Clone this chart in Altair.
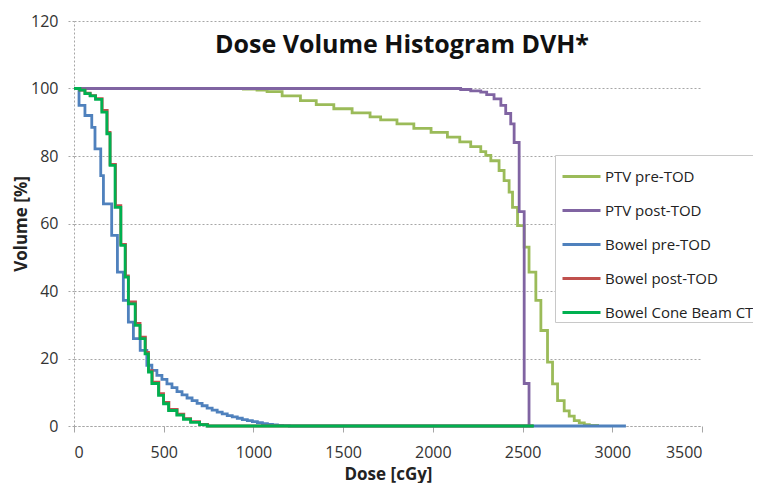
import altair as alt
import pandas as pd

# ---- data ----
series_names = ["PTV pre-TOD", "PTV post-TOD", "Bowel pre-TOD", "Bowel post-TOD", "Bowel Cone Beam CT"]
series_colors = ["#9BBB59", "#8064A2", "#4F81BD", "#C0504D", "#00B050"]

ptv_pre_dose = [0, 944, 1020, 1076, 1160, 1262, 1350, 1448, 1550, 1650, 1709, 1800, 1894, 1990, 2081,
                2150, 2211, 2267, 2295, 2323, 2369, 2397, 2425, 2444, 2472, 2509, 2536, 2574, 2602,
                2639, 2667, 2695, 2732, 2760, 2788, 2816, 2844, 2872, 2918]
ptv_pre_vol = [100, 99.8, 99.5, 99.1, 97.8, 96.4, 95.2, 94.0, 92.8, 91.6, 90.7, 89.5, 88.2, 87.0, 85.6,
               84.2, 82.8, 81.3, 80.2, 78.6, 75.7, 72.7, 69.3, 64.8, 59.4, 53.0, 45.6, 37.2, 28.3,
               18.9, 12.5, 7.5, 4.5, 2.9, 1.6, 0.9, 0.4, 0.15, 0]

ptv_post_dose = [0, 2155, 2211, 2267, 2300, 2341, 2379, 2406, 2434, 2453, 2481, 2509, 2536]
ptv_post_vol = [100, 99.7, 99.3, 98.9, 98.2, 96.9, 95.0, 92.6, 89.5, 84.0, 63.5, 12.6, 0]

bowel_pre_dose = [0, 28, 61, 99, 117, 149, 164, 210, 242, 275, 303, 331, 369, 406, 434, 462, 490, 518,
                  546, 574, 602, 630, 658, 686, 714, 742, 770, 798, 826, 854, 882, 910, 938, 966, 994,
                  1022, 1050, 1078, 1106, 1134, 1162, 1200, 3076]
bowel_pre_vol = [100, 95, 92, 88.5, 82.1, 74.2, 65.8, 56.5, 45.6, 37.2, 30.8, 25.9, 22.4, 18, 16.5, 15,
                 13.8, 12.5, 11.4, 10.2, 9.2, 8.3, 7.5, 6.7, 6.0, 5.3, 4.7, 4.1, 3.6, 3.1, 2.7, 2.3,
                 1.9, 1.6, 1.3, 1.0, 0.7, 0.5, 0.3, 0.2, 0.1, 0, 0]

bowel_post_dose = [0, 33, 61, 90, 120, 157, 185, 201, 231, 261, 287, 303, 343, 368, 398, 415, 436, 473,
                   499, 529, 575, 612, 650, 700, 745, 2560]
bowel_post_vol = [100, 99.5, 98.6, 97.9, 97.0, 93.5, 87.0, 77.5, 65.3, 53.8, 44.5, 36.8, 30.4, 26.3,
                  21.8, 16.4, 13.0, 9.6, 7.0, 4.9, 3.5, 2.2, 1.3, 0.5, 0, 0]

cbct_dose = [0, 33, 61, 90, 120, 155, 183, 201, 229, 261, 285, 303, 341, 368, 396, 415, 434, 471, 499,
             527, 573, 610, 650, 700, 741, 2563]
cbct_vol = [100, 99.5, 98.5, 97.8, 96.8, 93, 86.6, 77.2, 64.8, 53.5, 44.1, 36.2, 29.8, 25.9, 21.4, 16,
            12.6, 9.1, 6.6, 4.6, 3.2, 2.0, 1.1, 0.4, 0, 0]

x_ticks = [0, 500, 1000, 1500, 2000, 2500, 3000, 3500]
y_ticks = [0, 20, 40, 60, 80, 100, 120]
title_text = "Dose Volume Histogram DVH*"

series_data = [
    (series_names[0], ptv_pre_dose, ptv_pre_vol),
    (series_names[1], ptv_post_dose, ptv_post_vol),
    (series_names[2], bowel_pre_dose, bowel_pre_vol),
    (series_names[3], bowel_post_dose, bowel_post_vol),
    (series_names[4], cbct_dose, cbct_vol),
]
rows = []
for name, ds, vs in series_data:
    for d, v in zip(ds, vs):
        rows.append({"series": name, "dose": d, "volume": v})
df = pd.DataFrame(rows)

FONT = "Open Sans"
GRID = "#a6a6a6"

lines = alt.Chart(df).mark_line(interpolate="step-after", strokeWidth=2.8).encode(
    x=alt.X("dose:Q",
            scale=alt.Scale(domain=[0, 3500], nice=False, zero=True),
            axis=alt.Axis(values=x_ticks, format="d", title="Dose [cGy]", grid=False,
                          domainColor=GRID, domainDash=[2, 2], tickColor=GRID, tickSize=6,
                          labelPadding=12, labelFontSize=16, labelColor="#333333", labelFont=FONT,
                          titleFont=FONT, titleFontSize=17, titleFontWeight="bold", titleColor="#222222",
                          titleBaseline="alphabetic", titleY=53)),
    y=alt.Y("volume:Q",
            scale=alt.Scale(domain=[0, 120], nice=False),
            axis=alt.Axis(values=y_ticks, title="Volume [%]", grid=True, gridColor=GRID, gridDash=[2, 2],
                          domainColor=GRID, domainDash=[2, 2], tickColor=GRID, tickDash=[2, 2], tickSize=6,
                          labelPadding=10, labelFontSize=16, labelColor="#333333", labelFont=FONT,
                          titleFont=FONT, titleFontSize=17, titleFontWeight="bold", titleColor="#222222",
                          titleBaseline="middle", titleX=-53)),
    color=alt.Color("series:N",
                    scale=alt.Scale(domain=series_names, range=series_colors),
                    sort=series_names,
                    legend=alt.Legend(title=None, orient="none", legendX=481, legendY=134,
                                      symbolType="stroke", symbolSize=1444, symbolStrokeWidth=3,
                                      labelFont=FONT, labelFontSize=15, labelColor="#222222",
                                      labelOffset=3, rowPadding=5, padding=1, symbolOffset=5,
                                      strokeColor="#c8c8c8", fillColor="white", labelLimit=300)),
)

title = alt.Chart(pd.DataFrame({"t": [title_text]})).mark_text(
    font=FONT, fontSize=25, fontWeight="bold", color="#111111", align="center", baseline="alphabetic"
).encode(x=alt.value(328), y=alt.value(32), text="t:N")

chart = alt.layer(lines, title).properties(
    width=628, height=405,
    autosize=alt.AutoSizeParams(type="none"),
    padding={"left": 66, "top": 13, "right": 51, "bottom": 57},
).configure_view(stroke=None)

chart.save("out.html", embed_options={"renderer": "svg", "actions": False})
